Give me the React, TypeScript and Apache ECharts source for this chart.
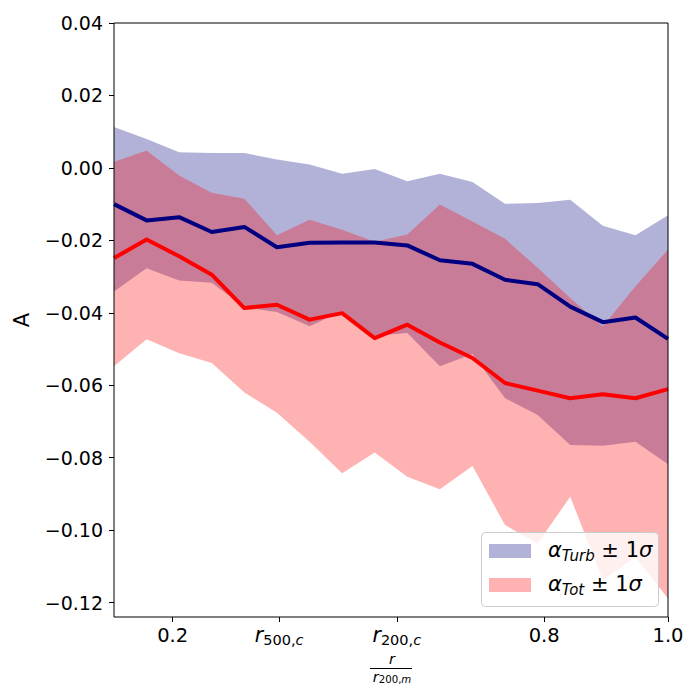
import React, { useEffect, useRef } from "react";
import * as echarts from "echarts";

// radial bins r / r200,m
const xValues = [
  0.1053, 0.1579, 0.2105, 0.2632, 0.3158, 0.3684, 0.4211, 0.4737, 0.5263,
  0.5789, 0.6316, 0.6842, 0.7368, 0.7895, 0.8421, 0.8947, 0.9474, 1.0,
];

const turbMean = [
  -0.01, -0.0145, -0.0136, -0.0177, -0.0163, -0.0219, -0.0207, -0.0206, -0.0206,
  -0.0214, -0.0255, -0.0265, -0.0309, -0.0321, -0.0383, -0.0426, -0.0413, -0.0472,
];
const turbUpper = [
  0.0113, 0.008, 0.0043, 0.0041, 0.0041, 0.0023, 0.0009, -0.0016, -0.0003,
  -0.0037, -0.0016, -0.0039, -0.0099, -0.0097, -0.0088, -0.016, -0.0186, -0.0131,
];
const turbLower = [
  -0.0341, -0.0277, -0.0311, -0.0317, -0.0385, -0.0398, -0.0437, -0.0395, -0.0464,
  -0.0456, -0.0548, -0.0514, -0.0636, -0.0682, -0.0765, -0.0767, -0.0756, -0.0818,
];

const totMean = [
  -0.0249, -0.0198, -0.0244, -0.0295, -0.0387, -0.0378, -0.0419, -0.0401, -0.047,
  -0.0433, -0.0482, -0.0525, -0.0594, -0.0615, -0.0636, -0.0625, -0.0636, -0.0611,
];
const totUpper = [
  0.0016, 0.0048, -0.0021, -0.0069, -0.0085, -0.0186, -0.0143, -0.0171, -0.0204,
  -0.0184, -0.0101, -0.0148, -0.0196, -0.0276, -0.0359, -0.0438, -0.0327, -0.0226,
];
const totLower = [
  -0.0548, -0.0473, -0.0512, -0.0539, -0.062, -0.0676, -0.0756, -0.0843, -0.0786,
  -0.0853, -0.0887, -0.0823, -0.0986, -0.1037, -0.0908, -0.1138, -0.1074, -0.1189,
];

const xTickValues = [0.2, 0.372, 0.562, 0.8, 1.0];
const xTickLabels = [
  "{n|0.2}",
  "{r|r}{s|500,}{si|c}",
  "{r|r}{s|200,}{si|c}",
  "{n|0.8}",
  "{n|1.0}",
];
const yTickValues = [0.04, 0.02, 0, -0.02, -0.04, -0.06, -0.08, -0.1, -0.12];

const X_MIN = 0.10526;
const X_MAX = 1.0;
const Y_MIN = -0.124;
const Y_MAX = 0.04;

const FONT = "DejaVu Sans";
const GRID = { left: 114, top: 23, right: 32, bottom: 83 };
const W = 700;
const H = 700;

const TURB_FILL = "rgba(0,0,128,0.3)";
const TOT_FILL = "rgba(255,0,0,0.3)";

function band(name: string, upper: number[], lower: number[], fill: string) {
  return {
    name,
    type: "custom",
    coordinateSystem: "cartesian2d",
    silent: true,
    z: 1,
    data: [[xValues[0], upper[0]]],
    renderItem: (_params: any, api: any) => {
      const pts: number[][] = [];
      for (let i = 0; i < xValues.length; i++) pts.push(api.coord([xValues[i], upper[i]]));
      for (let i = xValues.length - 1; i >= 0; i--) pts.push(api.coord([xValues[i], lower[i]]));
      return { type: "polygon", shape: { points: pts }, style: { fill, stroke: null } };
    },
  };
}

function line(name: string, ys: number[], color: string) {
  return {
    name,
    type: "line",
    z: 3,
    symbol: "none",
    silent: true,
    data: xValues.map((x, i) => [x, ys[i]]),
    lineStyle: { color, width: 4, join: "round", cap: "butt" },
  };
}

export default function App() {
  const ref = useRef<HTMLDivElement>(null);
  useEffect(() => {
    if (!ref.current) return;
    const chart = echarts.init(ref.current, null, { renderer: "svg" });
    const plotL = GRID.left;
    const plotT = GRID.top;
    const plotW = W - GRID.left - GRID.right;
    const plotH = H - GRID.top - GRID.bottom;
    const cx = plotL + plotW / 2;
    const legendRich = {
      a: { fontFamily: FONT, fontSize: 21, fontStyle: "italic", lineHeight: 26, color: "#000" },
      s: { fontFamily: FONT, fontSize: 15, fontStyle: "italic", lineHeight: 13, verticalAlign: "bottom", color: "#000" },
      n: { fontFamily: FONT, fontSize: 21, lineHeight: 26, color: "#000" },
    };
    chart.setOption({
      animation: false,
      backgroundColor: "#fff",
      grid: { ...GRID, containLabel: false, show: false },
      xAxis: {
        type: "value",
        min: X_MIN,
        max: X_MAX,
        axisLine: { show: false, onZero: false },
        splitLine: { show: false },
        axisTick: {
          show: true,
          customValues: xTickValues,
          length: 5,
          inside: false,
          lineStyle: { color: "#000", width: 1 },
        },
        axisLabel: {
          customValues: xTickValues,
          margin: 6,
          color: "#000",
          fontFamily: FONT,
          fontSize: 19,
          formatter: (v: number) => {
            const i = xTickValues.findIndex((t) => Math.abs(t - v) < 1e-6);
            return i >= 0 ? xTickLabels[i] : "";
          },
          rich: {
            n: { fontFamily: FONT, fontSize: 19.5, lineHeight: 24, color: "#000" },
            r: { fontFamily: FONT, fontSize: 20.5, fontStyle: "italic", lineHeight: 24, color: "#000" },
            s: { fontFamily: FONT, fontSize: 14.5, lineHeight: 12, verticalAlign: "bottom", color: "#000" },
            si: { fontFamily: FONT, fontSize: 14.5, fontStyle: "italic", lineHeight: 12, verticalAlign: "bottom", color: "#000" },
          },
        },
      },
      yAxis: {
        type: "value",
        min: Y_MIN,
        max: Y_MAX,
        axisLine: { show: false, onZero: false },
        splitLine: { show: false },
        axisTick: {
          show: true,
          customValues: yTickValues,
          length: 5,
          inside: false,
          lineStyle: { color: "#000", width: 1 },
        },
        axisLabel: {
          customValues: yTickValues,
          margin: 11,
          color: "#000",
          fontFamily: FONT,
          fontSize: 19,
          formatter: (v: number) => (v < -1e-9 ? "\u2212" : "") + Math.abs(v).toFixed(2),
        },
      },
      series: [
        band("turbBand", turbUpper, turbLower, TURB_FILL),
        band("totBand", totUpper, totLower, TOT_FILL),
        line("turbMean", turbMean, "#000080"),
        line("totMean", totMean, "#ff0000"),
      ],
      graphic: [
        {
          type: "rect",
          z: 100,
          silent: true,
          shape: { x: plotL, y: plotT, width: plotW, height: plotH },
          style: { fill: null, stroke: "#000", lineWidth: 1 },
        },
        {
          type: "text",
          z: 100,
          x: 22,
          y: 320,
          rotation: Math.PI / 2,
          style: { text: "A", fontFamily: FONT, fontSize: 21, fill: "#000", align: "center", verticalAlign: "middle" },
        },
        {
          type: "text",
          z: 100,
          x: cx + 1,
          y: 658,
          style: { text: "r", fontFamily: FONT, fontSize: 14.6, fontStyle: "italic", fill: "#000", align: "center", verticalAlign: "middle" },
        },
        {
          type: "line",
          z: 100,
          shape: { x1: cx - 21, y1: 668.5, x2: cx + 21, y2: 668.5 },
          style: { stroke: "#000", lineWidth: 1 },
        },
        {
          type: "text",
          z: 100,
          x: cx + 1,
          y: 676,
          style: {
            text: "{r|r}{s|200,}{si|m}",
            align: "center",
            verticalAlign: "middle",
            rich: {
              r: { fontFamily: FONT, fontSize: 14.6, fontStyle: "italic", lineHeight: 17, fill: "#000" },
              s: { fontFamily: FONT, fontSize: 10.2, lineHeight: 9, verticalAlign: "bottom", fill: "#000" },
              si: { fontFamily: FONT, fontSize: 10.2, fontStyle: "italic", lineHeight: 9, verticalAlign: "bottom", fill: "#000" },
            },
          },
        },
        {
          type: "rect",
          z: 110,
          silent: true,
          shape: { x: 481.5, y: 532.5, width: 177, height: 74, r: 4 },
          style: { fill: "rgba(255,255,255,0.8)", stroke: "#cccccc", lineWidth: 1 },
        },
        {
          type: "rect",
          z: 111,
          shape: { x: 489, y: 544, width: 42, height: 14 },
          style: { fill: TURB_FILL },
        },
        {
          type: "rect",
          z: 111,
          shape: { x: 489, y: 578, width: 42, height: 14 },
          style: { fill: TOT_FILL },
        },
        {
          type: "text",
          z: 111,
          x: 548,
          y: 550,
          style: { text: "{a|\u03b1}{s|Turb}{n| \u00b1 1}{a|\u03c3}", align: "left", verticalAlign: "middle", rich: legendRich },
        },
        {
          type: "text",
          z: 111,
          x: 548,
          y: 584,
          style: { text: "{a|\u03b1}{s|Tot}{n| \u00b1 1}{a|\u03c3}", align: "left", verticalAlign: "middle", rich: legendRich },
        },
      ],
    });
    return () => chart.dispose();
  }, []);
  return (
    <div
      ref={ref}
      style={{ position: "fixed", left: 0, top: 0, width: W, height: H, background: "#fff" }}
    />
  );
}
